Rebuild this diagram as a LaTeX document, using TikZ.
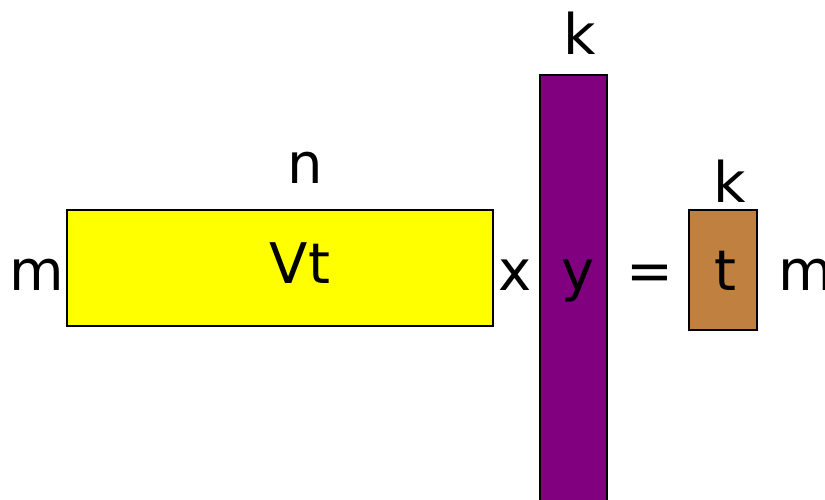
\documentclass[tikz,border=0pt]{standalone}
\usepackage{fontspec}
\setmainfont{DejaVu Sans}
\usetikzlibrary{positioning}
\definecolor{vtyellow}{HTML}{FFFF00}
\definecolor{ypurple}{HTML}{800080}
\definecolor{tbrown}{HTML}{C08040}

\begin{document}
\begin{tikzpicture}[
                x=1pt, y=-1pt,
                font=\fontsize{56}{60}\selectfont,
                matrixbox/.style={rectangle, draw=black, line width=2pt, inner sep=0pt},
                txt/.style={anchor=base, inner sep=0pt},
            ]
            \useasboundingbox (0,0) rectangle (825,500);
            \clip (0,0) rectangle (825,500);

            % ── Vt matrix ─────────────────────────────────────────
            \node[matrixbox, fill=vtyellow, minimum width=426pt, minimum height=116pt] (vt) at (280,268) {};
            \node[txt] (vtlbl) at (300,283) {Vt};
            \node[txt] (vtn) at (305,183) {n};
            \node[txt] (vtm) at (37,290) {m};

            % ── times ─────────────────────────────────────────────
            \node[txt] (times) at (515,290) {x};

            % ── y matrix ──────────────────────────────────────────
            \node[matrixbox, fill=ypurple, minimum width=67pt, minimum height=460pt] (ymat) at (573.5,305) {};
            \node[txt] (ylbl) at (578,290) {y};
            \node[txt] (yk) at (580,55) {k};

            % ── equals ────────────────────────────────────────────
            \node[txt] (eq) at (650,290) {=};

            % ── t matrix ──────────────────────────────────────────
            \node[matrixbox, fill=tbrown, minimum width=68pt, minimum height=120pt] (tmat) at (723,270) {};
            \node[txt] (tlbl) at (725,290) {t};
            \node[txt] (tk) at (730,203) {k};
            \node[txt, anchor=base west] (tm) at (778,290) {m};
        \end{tikzpicture}
\end{document}
